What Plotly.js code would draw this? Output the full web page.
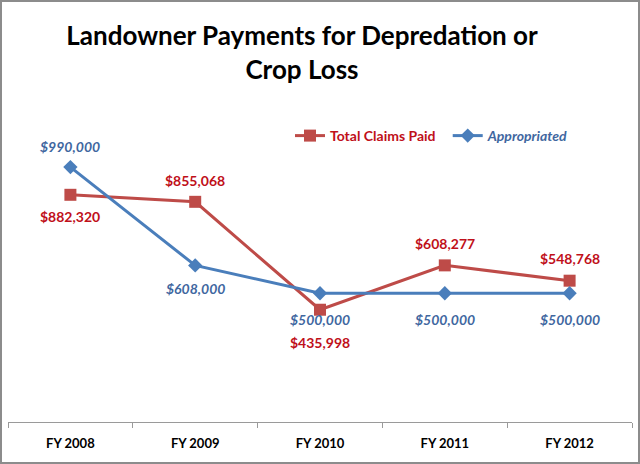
<!DOCTYPE html>
<html><head><meta charset="utf-8">
<script src="https://cdn.plot.ly/plotly-3.0.1.min.js"></script>
<style>html,body{margin:0;padding:0;background:#fff}#chart{width:640px;height:464px}</style>
</head><body><div id="chart"></div>
<script>
const categories = ["FY 2008", "FY 2009", "FY 2010", "FY 2011", "FY 2012"];
const claimsPaid = [882320, 855068, 435998, 608277, 548768];
const appropriated = [990000, 608000, 500000, 500000, 500000];
const claimsLabels = ["$882,320", "$855,068", "$435,998", "$608,277", "$548,768"];
const apprLabels = ["$990,000", "$608,000", "$500,000", "$500,000", "$500,000"];

const FONT = "Lato, 'Open Sans', sans-serif";
const claimsShift = [-22, 21, -33, 22, 22];
const apprShift = [21, -23, -26, -26, -26];

const ml = 8, mr = 8, mt = 113, mb = 42;
const pw = 640 - ml - mr, ph = 464 - mt - mb;

const traces = [
  {x: categories, y: claimsPaid, name: "<b>Total Claims Paid</b>&nbsp;&nbsp;", type: "scatter", mode: "lines+markers",
   line: {color: "#BE4B48", width: 3}, marker: {symbol: "square", size: 12, color: "#BE4B48"}},
  {x: categories, y: appropriated, name: "<b><i>Appropriated</i></b>", type: "scatter", mode: "lines+markers",
   line: {color: "#4A7EBB", width: 3}, marker: {symbol: "diamond", size: 11, color: "#4A7EBB"}}
];

const annotations = [];
categories.forEach((c, i) => {
  annotations.push({x: c, y: claimsPaid[i], xref: "x", yref: "y", text: "<b>" + claimsLabels[i] + "</b>",
    showarrow: false, yshift: claimsShift[i], font: {family: FONT, size: 14, color: "#C0101A"}});
  annotations.push({x: c, y: appropriated[i], xref: "x", yref: "y", text: "<b><i>" + apprLabels[i] + "</i></b>",
    showarrow: false, yshift: apprShift[i], font: {family: FONT, size: 14, color: "#3F67A0"}});
});

const layout = {
  width: 640, height: 464,
  margin: {l: ml, r: mr, t: mt, b: mb},
  paper_bgcolor: "#fff", plot_bgcolor: "#fff",
  title: {text: "<b>Landowner Payments for Depredation or<br>Crop Loss</b>", x: 302 / 640, xanchor: "center",
    y: 1 - 45 / 464, yanchor: "top", font: {family: FONT, size: 26, color: "#000"}},
  xaxis: {type: "category", range: [-0.5, 4.5], showline: true, linecolor: "#9a9a9a", linewidth: 1,
    tickvals: categories, ticktext: categories.map(c => "<b>" + c + "</b>"),
    ticks: "outside", tickson: "boundaries", ticklen: 5, tickcolor: "#9a9a9a", showgrid: false, zeroline: false,
    ticklabelstandoff: 9,
    tickfont: {family: FONT, size: 13, color: "#000"}, fixedrange: true},
  yaxis: {range: [0, 1200000], visible: false, showgrid: false, zeroline: false},
  showlegend: true,
  legend: {orientation: "h", x: (290 - ml) / pw, xanchor: "left", y: (422 - 136) / ph, yanchor: "middle",
    font: {family: FONT, size: 14, color: "#C0101A"}, bgcolor: "rgba(0,0,0,0)"},
  annotations: annotations,
  shapes: [{type: "rect", xref: "paper", yref: "paper",
    x0: -(ml - 1) / pw, x1: 1 + (mr - 1) / pw, y0: -(mb - 1) / ph, y1: 1 + (mt - 1) / ph,
    line: {color: "#8c8c8c", width: 2}, fillcolor: "rgba(0,0,0,0)", layer: "below"}]
};
Plotly.newPlot("chart", traces, layout, {displayModeBar: false, staticPlot: true}).then(() => {
  const texts = document.querySelectorAll(".legendtext");
  if (texts[0]) { texts[0].style.fill = "#C0101A"; }
  if (texts[1]) { texts[1].style.fill = "#3F67A0"; }
});
</script></body></html>
